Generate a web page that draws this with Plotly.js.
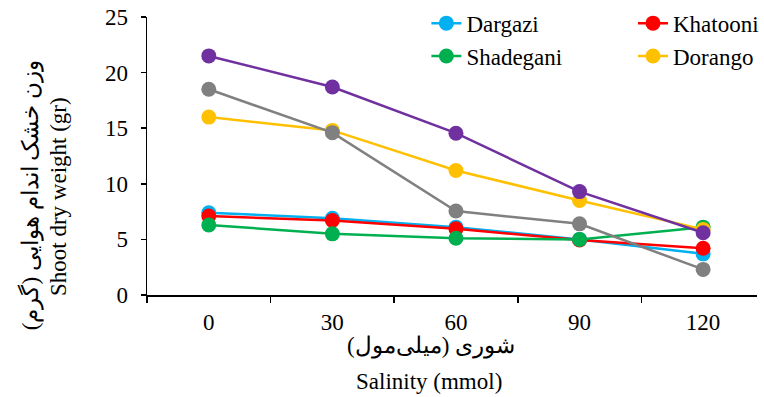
<!DOCTYPE html>
<html>
<head>
<meta charset="utf-8">
<script src="https://cdn.plot.ly/plotly-3.0.1.min.js"></script>
<style>html,body{margin:0;padding:0;background:#fff;}#chart{width:764px;height:397px;}</style>
</head>
<body>
<div id="chart"></div>
<script>
const categories = ['0', '30', '60', '90', '120'];
const dargazi   = [7.4, 6.9, 6.1, 5.0, 3.7];
const khatooni  = [7.1, 6.7, 5.95, 4.95, 4.2];
const shadegani = [6.3, 5.5, 5.1, 5.0, 6.1];
const dorango   = [16.0, 14.8, 11.2, 8.5, 5.9];
const grayLine  = [18.5, 14.6, 7.55, 6.4, 2.3];
const purpleLine= [21.5, 18.7, 14.55, 9.3, 5.6];
const yTitleFa = 'وزن خشک اندام هوایی (گرم)';
const yTitleEn = 'Shoot dry weight (gr)';
const xTitleFa = 'شوری (میلی‌مول)';
const xTitleEn = 'Salinity (mmol)';

const FONT = '"Liberation Serif", "Times New Roman", serif';
const FS = 23;
function tr(name, y, color, legend, show) {
  return {
    type: 'scatter', mode: 'lines+markers', name: name,
    x: categories, y: y,
    line: {color: color, width: 2.5},
    marker: {color: color, size: 15},
    legend: legend, legendgroup: name, showlegend: show
  };
}
const data = [
  tr('Dargazi', dargazi, '#00B0F0', 'legend', true),
  tr('Khatooni', khatooni, '#FF0000', 'legend2', true),
  tr('Shadegani', shadegani, '#00B050', 'legend', true),
  tr('Dorango', dorango, '#FFC000', 'legend2', true),
  tr('S5', grayLine, '#808080', 'legend', false),
  tr('S6', purpleLine, '#7030A0', 'legend', false)
];
const legendBase = {
  font: {family: FONT, size: FS, color: '#000'},
  bgcolor: 'rgba(0,0,0,0)', borderwidth: 0,
  orientation: 'v', xanchor: 'left', yanchor: 'top',
  tracegroupgap: 0, itemwidth: 30
};
function ann(text, x, y, angle) {
  return {text: text, xref: 'paper', yref: 'paper', x: x, y: y,
    xanchor: 'center', yanchor: 'middle', textangle: angle, showarrow: false,
    font: {family: FONT, size: FS, color: '#000'}};
}
const layout = {
  width: 764, height: 397,
  margin: {l: 147, r: 0, t: 17, b: 102},
  paper_bgcolor: '#fff', plot_bgcolor: '#fff',
  font: {family: FONT, size: FS, color: '#000'},
  showlegend: true,
  legend: Object.assign({}, legendBase, {x: 0.458, y: 1.055}),
  legend2: Object.assign({}, legendBase, {x: 0.797, y: 1.055}),
  xaxis: {
    type: 'category', range: [-0.5, 4.436],
    showline: true, linecolor: '#000', linewidth: 1.5,
    ticks: 'outside', ticklen: 6, tickcolor: '#000', tickwidth: 1.5,
    tickson: 'boundaries', showgrid: false, zeroline: false,
    ticklabelstandoff: 6,
    tickfont: {family: FONT, size: FS, color: '#000'}
  },
  yaxis: {
    range: [0, 25], dtick: 5,
    showline: true, linecolor: '#000', linewidth: 1.5,
    ticks: 'outside', ticklen: 5, tickcolor: '#000', tickwidth: 1.5,
    showgrid: false, zeroline: false, ticklabelstandoff: 8,
    tickfont: {family: FONT, size: FS, color: '#000'}
  },
  annotations: [
    ann(yTitleFa, -0.1896, 0.36, -90),
    ann(yTitleEn, -0.1459, 0.3525, -90),
    ann(xTitleFa, 0.4652, -0.1836, 0),
    ann(xTitleEn, 0.4619, -0.3094, 0)
  ]
};
Plotly.newPlot('chart', data, layout, {displayModeBar: false, staticPlot: true});
</script>
</body>
</html>
